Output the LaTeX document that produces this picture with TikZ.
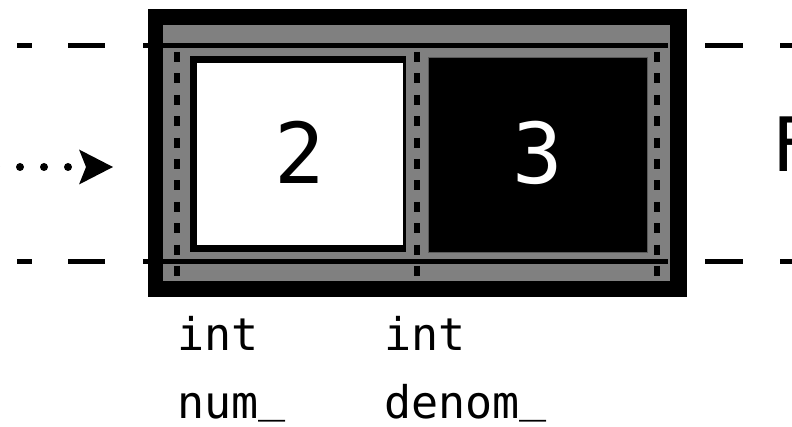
\documentclass[tikz,border=0pt]{standalone}
\usepackage{fontspec}
\newfontfamily\monofnt{DejaVu Sans Mono}
\usetikzlibrary{arrows.meta}
\definecolor{midgray}{RGB}{128,128,128}
\newcommand{\rus}{\raisebox{7pt}{\_}}
\tikzset{
  guide/.style={line width=5pt},
  hline/.style={line width=5pt},
  vdash/.style={line width=6pt, dash pattern=on 10pt off 11.4pt},
  lbl/.style={font=\monofnt\fontsize{45}{54}\selectfont, anchor=base west, inner sep=0pt},
  digit/.style={font=\monofnt\fontsize{84}{100}\selectfont, inner sep=0pt},
  dotarrow/.style={line width=8pt, line cap=round, dash pattern=on 0pt off 24pt,
    -{Stealth[length=34pt,width=35pt,inset=7pt,line width=0pt]}},
}
\begin{document}
\begin{tikzpicture}[x=1pt,y=-1pt]
\useasboundingbox (0,0) rectangle (792,427);
\clip (0,0) rectangle (792,427);
% outer dashed guide lines
\draw[guide] (17,45.5) -- (32,45.5) (68,45.5) -- (105,45.5) (143,45.5) -- (152,45.5);
\draw[guide] (17,261.5) -- (32,261.5) (68,261.5) -- (105,261.5) (143,261.5) -- (152,261.5);
\draw[guide] (705,45.5) -- (743,45.5) (780,45.5) -- (800,45.5);
\draw[guide] (705,261.5) -- (743,261.5) (780,261.5) -- (800,261.5);
% frame
\fill[black] (148,9) rectangle (687,297);
\fill[midgray] (163,25) rectangle (670,281);
\draw[hline] (163,45.5) -- (668,45.5);
\draw[hline] (163,261.5) -- (668,261.5);
\foreach \xx in {176.5,417,657}
  \draw[vdash] (\xx,52) -- (\xx,276);
% num box
\fill[black] (190,56) rectangle (406,252);
\fill[white] (197,63) rectangle (403,245);
% denom box
\fill[black, draw=midgray!70!black, line width=0.6pt] (428,57) rectangle (647,252);
\node[digit, text=black] (num) at (300,152.5) {2};
\node[digit, text=white] (den) at (537.5,152.5) {3};
\node[font=\monofnt\fontsize{75}{90}\selectfont, inner sep=0pt, anchor=north west] (ftext) at (771,117) {F};
% labels
\node[lbl] (t1) at (177,350) {int};
\node[lbl] (n1) at (177,418) {num\rus};
\node[lbl] (t2) at (384,350) {int};
\node[lbl] (n2) at (384,418) {denom\rus};
% dotted arrow
\coordinate (astart) at (-4,167);
\coordinate (aend) at (113,167);
\draw[dotarrow] (astart) -- (aend);
\end{tikzpicture}
\end{document}
